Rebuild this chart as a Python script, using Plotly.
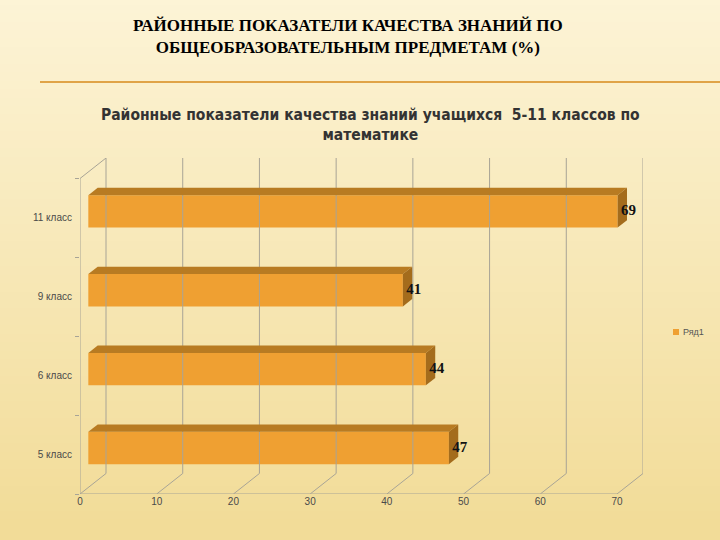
import base64, struct, zlib
import plotly.graph_objects as go

# ---------------- data ----------------
categories = ["5 класс", "6 класс", "9 класс", "11 класс"]
values = [47, 44, 41, 69]
x_ticks = [0, 10, 20, 30, 40, 50, 60, 70]
series_name = "Ряд1"

main_title = "РАЙОННЫЕ ПОКАЗАТЕЛИ КАЧЕСТВА ЗНАНИЙ ПО<br>ОБЩЕОБРАЗОВАТЕЛЬНЫМ ПРЕДМЕТАМ (%)"
chart_title = "Районные показатели качества знаний учащихся  5-11 классов по<br>математике"

# ---------------- geometry (3D look) ----------------
XMAX = 70
DX = 3.39          # wall depth along x (data units)
DY = 0.26          # wall depth along y (category units)
F0, F1 = 0.32, 0.68  # bar front/back position within depth
BAR_H = 0.41

FRONT = "#EFA032"
TOP = "#B87B22"
SIDE = "#A46C1C"
GRID = "#A8A496"

# plot-area pixel box (figure is 720x540)
L, R, T, B = 80, 643, 158, 494
PW, PH = R - L, B - T


def px(xp):
    return (xp - L) / PW


def py(yp):
    return (B - yp) / PH


def png_gradient(w, h, top, bottom):
    rows = b""
    for j in range(h):
        t = j / (h - 1)
        c = bytes(int(top[k] + (bottom[k] - top[k]) * t) for k in range(3))
        rows += b"\x00" + c * w
    def chunk(tag, data):
        return struct.pack(">I", len(data)) + tag + data + struct.pack(">I", zlib.crc32(tag + data) & 0xffffffff)
    png = b"\x89PNG\r\n\x1a\n" + chunk(b"IHDR", struct.pack(">IIBBBBB", w, h, 8, 2, 0, 0, 0)) \
        + chunk(b"IDAT", zlib.compress(rows)) + chunk(b"IEND", b"")
    return "data:image/png;base64," + base64.b64encode(png).decode()


fig = go.Figure()

# walls / grid
lines_x, lines_y = [], []
def seg(x0, y0, x1, y1):
    lines_x.extend([x0, x1, None])
    lines_y.extend([y0, y1, None])

n = len(categories)
ybot, ytop = -0.5, n - 0.5
# left wall
seg(0, ybot, 0, ytop)
seg(DX, ybot + DY, DX, ytop + DY)
seg(0, ytop, DX, ytop + DY)
seg(0, ybot, DX, ybot + DY)
# front floor edge
seg(0, ybot, XMAX, ybot)
# back wall gridlines + floor diagonals
for t in x_ticks:
    if t > 0:
        seg(t + DX, ybot + DY, t + DX, ytop + DY)
        seg(t, ybot, t + DX, ybot + DY)

fig.add_trace(go.Scatter(x=lines_x, y=lines_y, mode="lines",
                         line=dict(color=GRID, width=1), hoverinfo="skip",
                         showlegend=False))

# bars: front faces
fx, fy = F0 * DX, F0 * DY
bx, by = F1 * DX, F1 * DY
ddx, ddy = bx - fx, by - fy
fig.add_trace(go.Bar(
    y=[i + fy for i in range(n)], x=values, base=[fx] * n, orientation="h",
    width=BAR_H, marker=dict(color=FRONT, line=dict(width=0)),
    name=series_name, showlegend=False))

# top and side faces
for i, v in enumerate(values):
    yc = i + fy
    yt, yb = yc + BAR_H / 2, yc - BAR_H / 2
    x0, x1 = fx, fx + v
    fig.add_trace(go.Scatter(
        x=[x0, x1, x1 + ddx, x0 + ddx, x0], y=[yt, yt, yt + ddy, yt + ddy, yt],
        fill="toself", fillcolor=TOP, mode="lines", line=dict(width=0, color=TOP),
        hoverinfo="skip", showlegend=False))
    fig.add_trace(go.Scatter(
        x=[x1, x1 + ddx, x1 + ddx, x1, x1], y=[yb, yb + ddy, yt + ddy, yt, yb],
        fill="toself", fillcolor=SIDE, mode="lines", line=dict(width=0, color=SIDE),
        hoverinfo="skip", showlegend=False))

# value labels
fig.add_trace(go.Scatter(
    x=[fx + v + 0.45 for v in values], y=[i + fy for i in range(n)], mode="text",
    text=["<b>%d</b>" % v for v in values], textposition="middle right",
    textfont=dict(family="Liberation Serif, Times New Roman, serif", size=15, color="#111111"),
    hoverinfo="skip", showlegend=False, cliponaxis=False))

bg = png_gradient(4, 64, (253, 244, 214), (242, 220, 152))

fig.update_layout(
    width=720, height=540,
    margin=dict(l=L, r=720 - R, t=T, b=540 - B, autoexpand=False),
    paper_bgcolor="#F7E7B5", plot_bgcolor="rgba(0,0,0,0)",
    images=[dict(source=bg, xref="paper", yref="paper", x=px(0), y=py(0),
                 sizex=720 / PW, sizey=540 / PH, xanchor="left", yanchor="top",
                 sizing="stretch", layer="below")],
    barmode="overlay",
    showlegend=False,
    xaxis=dict(range=[0, XMAX + DX], tickvals=x_ticks, showgrid=False, zeroline=False,
               showline=False, ticks="",
               tickfont=dict(family="Liberation Sans, Arial", size=10, color="#4a4a4a")),
    yaxis=dict(range=[ybot, ytop + DY], tickvals=list(range(n)), ticktext=categories,
               showgrid=False, zeroline=False, showline=False, ticks="",
               ticklabelstandoff=7,
               minor=dict(tickvals=[ybot + k for k in range(n + 1)], ticks="outside",
                          ticklen=4, tickcolor=GRID, tickwidth=1, showgrid=False),
               tickfont=dict(family="Liberation Sans, Arial", size=10, color="#4a4a4a")),
    shapes=[
        dict(type="line", xref="paper", yref="paper", x0=px(40), x1=px(720),
             y0=py(82), y1=py(82), line=dict(color="#E0A448", width=2)),
        # legend swatch
        dict(type="rect", xref="paper", yref="paper", x0=px(673), x1=px(679),
             y0=py(335), y1=py(329), fillcolor=FRONT, line=dict(width=0)),
    ],
    annotations=[
        dict(text="<b>" + main_title + "</b>", xref="paper", yref="paper",
             x=px(348), y=py(37), xanchor="center", yanchor="middle",
             showarrow=False, align="center",
             font=dict(family="Liberation Serif, Times New Roman, serif", size=17, color="#000000")),
        dict(text="<b>" + chart_title + "</b>", xref="paper", yref="paper",
             x=px(370), y=py(125), xanchor="center", yanchor="middle",
             showarrow=False, align="center",
             font=dict(family="DejaVu Sans Condensed, Liberation Sans Narrow, sans-serif",
                       size=15.5, color="#333333")),
        # legend text
        dict(text=series_name, xref="paper", yref="paper", x=px(681), y=py(332),
             xanchor="left", yanchor="middle", showarrow=False,
             font=dict(family="Liberation Sans, Arial", size=9, color="#555555")),
    ],
)

fig.write_html("out.html", config={"displayModeBar": False, "staticPlot": True},
               post_script="document.body.style.margin='0';document.body.style.overflow='hidden';")
